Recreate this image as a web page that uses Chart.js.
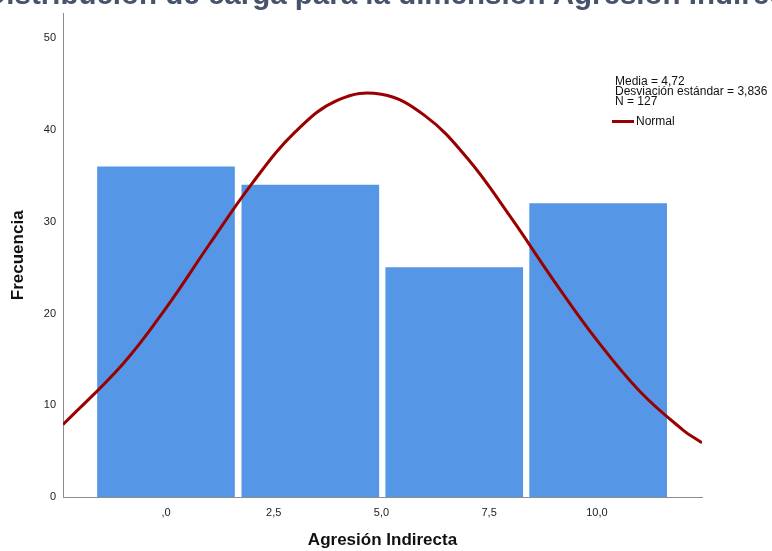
<!DOCTYPE html>
<html>
<head>
<meta charset="utf-8">
<script src="https://cdn.jsdelivr.net/npm/chart.js@4.4.0/dist/chart.umd.min.js"></script>
<style>
  html, body { margin: 0; padding: 0; background: #fff; overflow: hidden; }
  #wrap { position: relative; width: 772px; height: 551px; overflow: hidden; }
  #title {
    position: absolute; left: -15px; top: -21px;
    font: bold 29.5px "Liberation Sans", Arial, sans-serif; line-height: 30px;
    color: #46536a; white-space: nowrap;
  }
  canvas { position: absolute; left: 0; top: 0; }
</style>
</head>
<body>
<div id="wrap">
  <canvas id="histChart" width="772" height="551"></canvas>
  <div id="title">Distribución de carga para la dimensión Agresión Indirecta</div>
</div>
<script>
// histogram bins (centers) and frequencies
const binCenters = [0, 3.35, 6.69, 10.03];
const frequencies = [36, 34, 25, 32];

// normal curve
const curveX = [-2.39, -1, 0, 1, 2, 3, 4, 5, 6, 7, 8, 9, 10, 11, 12, 12.44];
const curveY = [7.9, 14.5, 20.6, 27.5, 34.2, 39.8, 43.3, 43.9, 41.6, 36.9, 30.5, 23.6, 17.1, 11.5, 7.3, 5.9];

const xTicks = [0, 2.5, 5, 7.5, 10];
const xTickLabels = [",0", "2,5", "5,0", "7,5", "10,0"];
const yTicks = [0, 10, 20, 30, 40, 50];

const statsLines = ["Media = 4,72", "Desviación estándar = 3,836", "N = 127"];

const font = '"Liberation Sans", Arial, sans-serif';

const statsBox = {
    id: 'statsBox',
    afterDraw(chart) {
        const ctx = chart.ctx;
        ctx.save();
        ctx.fillStyle = '#111';
        ctx.font = '12px ' + font;
        ctx.textBaseline = 'middle';
        statsLines.forEach((t, i) => ctx.fillText(t, 615, 82 + i * 10));
        ctx.strokeStyle = '#990000';
        ctx.lineWidth = 3;
        ctx.beginPath();
        ctx.moveTo(612, 121.5);
        ctx.lineTo(634, 121.5);
        ctx.stroke();
        ctx.fillText("Normal", 636, 122);
        ctx.restore();
    }
};

const ctx = document.getElementById('histChart').getContext('2d');
const histChart = new Chart(ctx, {
    type: 'bar',
    data: {
        datasets: [{
            type: 'line',
            label: 'Normal',
            data: curveX.map((x, i) => ({ x: x, y: curveY[i] })),
            borderColor: '#990000',
            borderWidth: 3,
            pointRadius: 0,
            tension: 0.4,
            fill: false,
            order: 0
        }, {
            label: 'Frecuencia',
            data: binCenters.map((x, i) => ({ x: x, y: frequencies[i] })),
            backgroundColor: '#5596e6',
            borderWidth: 0,
            barThickness: 137,
            order: 1
        }]
    },
    options: {
        responsive: false,
        animation: false,
        layout: { padding: { top: 13, right: 70, left: 0, bottom: 0 } },
        plugins: {
            legend: { display: false },
            tooltip: { enabled: false }
        },
        scales: {
            x: {
                type: 'linear',
                min: -2.39,
                max: 12.44,
                offset: false,
                grid: { display: false, drawTicks: false },
                border: { display: true, color: '#8c8c8c', width: 1 },
                afterBuildTicks: (scale) => { scale.ticks = xTicks.map(v => ({ value: v })); },
                afterFit: (scale) => { scale.height = 54; },
                ticks: {
                    padding: 9,
                    color: '#222',
                    font: { family: font, size: 11 },
                    maxRotation: 0,
                    callback: (v) => xTickLabels[xTicks.indexOf(v)]
                },
                title: {
                    display: true,
                    text: 'Agresión Indirecta',
                    color: '#111',
                    font: { family: font, size: 17, weight: 'bold' },
                    padding: { top: -1, bottom: 0 }
                }
            },
            y: {
                min: 0,
                max: 52.7,
                grid: { display: false, drawTicks: false },
                border: { display: true, color: '#8c8c8c', width: 1 },
                afterBuildTicks: (scale) => { scale.ticks = yTicks.map(v => ({ value: v })); },
                afterFit: (scale) => { scale.width = 63; },
                ticks: {
                    padding: 7,
                    color: '#222',
                    font: { family: font, size: 11 }
                },
                title: {
                    display: true,
                    text: 'Frecuencia',
                    color: '#111',
                    font: { family: font, size: 17, weight: 'bold' },
                    padding: { top: 8, bottom: 0 }
                }
            }
        }
    },
    plugins: [statsBox]
});
</script>
</body>
</html>
